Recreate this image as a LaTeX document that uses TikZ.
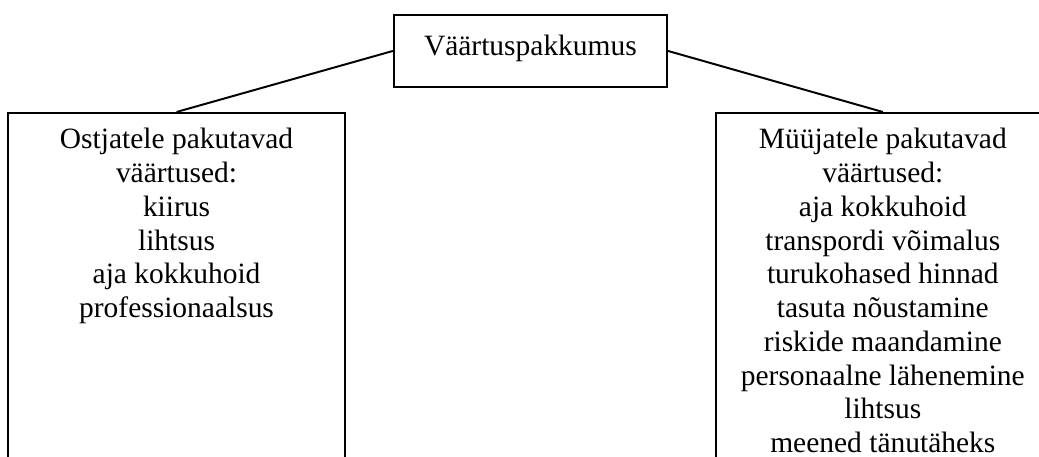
\documentclass[tikz,border=0pt]{standalone}
\usepackage{fontspec}
\setmainfont{Liberation Serif}
\usetikzlibrary{positioning}

\begin{document}
\begin{tikzpicture}[
 font=\fontsize{12pt}{13.75pt}\selectfont,
 box/.style={draw,line width=0.8pt,inner sep=5pt,anchor=north west},
 link/.style={line width=0.8pt}
]
\useasboundingbox (0,0) rectangle (423.1pt,-186.1pt);
\clip (0,0) rectangle (423.1pt,-186.1pt);
\node[box] (value) at (160pt,-5.7pt) {
 \begin{minipage}[t][19.3pt][t]{101.2pt}
 \centering\rule{0pt}{11.6pt}Väärtuspakkumus
 \end{minipage}};
\node[box,below left=9.8pt and 19.1pt of value] (buyers) {
 \begin{minipage}[t][136.6pt][t]{127.2pt}
 \centering\strut Ostjatele pakutavad\\
 väärtused:\\
 kiirus\\
 lihtsus\\
 aja kokkuhoid\\
 professionaalsus
 \end{minipage}};
\node[box,below right=9.8pt and 19.1pt of value] (sellers) {
 \begin{minipage}[t][136.6pt][t]{126pt}
 \centering\strut Müüjatele pakutavad\\
 väärtused:\\
 aja kokkuhoid\\
 transpordi võimalus\\
 turukohased hinnad\\
 tasuta nõustamine\\
 riskide maandamine\\
 personaalne lähenemine\\
 lihtsus\\
 meened tänutäheks
 \end{minipage}};
\draw[link] (value.west) -- (buyers.north);
\draw[link] (value.east) -- (sellers.north);
\end{tikzpicture}
\end{document}
